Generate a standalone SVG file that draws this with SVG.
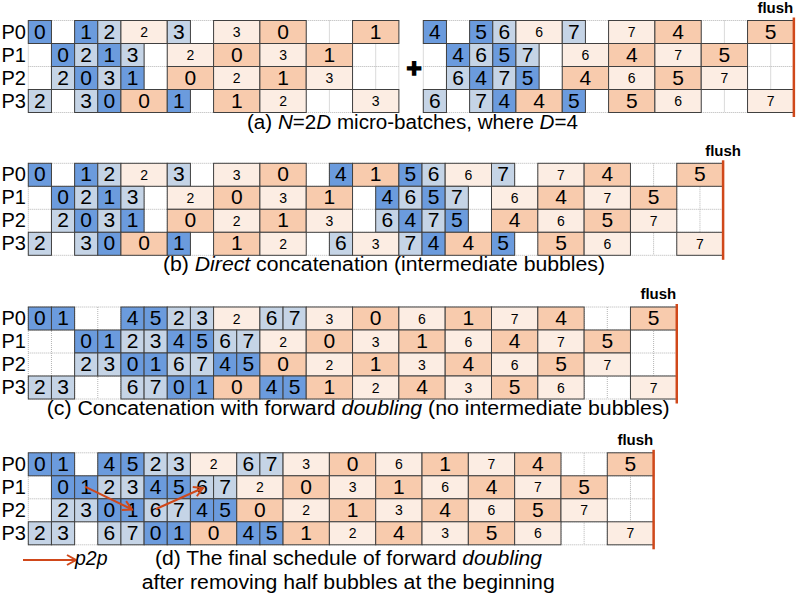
<svg xmlns="http://www.w3.org/2000/svg" width="797" height="599" viewBox="0 0 797 599">
<style>
.fd{fill:#6B9BDD}.fl{fill:#C5D4E6}.bd{fill:#F8CBAD}.bl{fill:#FCEDE3}
rect.fd,rect.fl,rect.bd,rect.bl{stroke:#404040;stroke-width:1}
text{font-family:'Liberation Sans',Arial,sans-serif;fill:#000}
.t{font-size:21px;text-anchor:middle}
.s{font-size:14px;text-anchor:middle}
.lbl{font-size:20px}
.grid{fill:none;stroke:#B4B4B4;stroke-width:1;stroke-dasharray:1 1}
.flush{stroke:#D0481A;stroke-width:2.5}
.ft{font-weight:bold;font-size:15px}
.cap{font-size:19.5px}
.p2p{stroke:#D0481A;stroke-width:2;fill:none}
</style>
<defs>
<marker id="ah" markerUnits="userSpaceOnUse" markerWidth="16" markerHeight="16" refX="13" refY="8" orient="auto"><path d="M4,3 L13,8 L4,13" fill="none" stroke="#D0481A" stroke-width="2"/></marker>
</defs>

<!-- Section (a) left -->
<g id="sec-a-left" transform="translate(28.3,20.5)">
<path class="grid" d="M0 0V92M23.16 0V92M46.32 0V92M69.48 0V92M92.64 0V92M115.8 0V92M138.96 0V92M162.12 0V92M185.28 0V92M208.44 0V92M231.6 0V92M254.76 0V92M277.92 0V92M301.08 0V92M324.24 0V92M347.4 0V92M370.56 0V92M0 0H370.56M0 23H370.56M0 46H370.56M0 69H370.56M0 92H370.56"/>
<g id="a-p0"><text class="lbl" x="-26.8" y="18">P0</text>
<rect class="fd" x="0" width="23.16" height="23"/><text class="t" x="11.58" y="18">0</text>
<rect class="fd" x="46.32" width="23.16" height="23"/><text class="t" x="57.9" y="18">1</text>
<rect class="fl" x="69.48" width="23.16" height="23"/><text class="t" x="81.06" y="18">2</text>
<rect class="bl" x="92.64" width="46.32" height="23"/><text class="s" x="115.8" y="16.5">2</text>
<rect class="fl" x="138.96" width="23.16" height="23"/><text class="t" x="150.54" y="18">3</text>
<rect class="bl" x="185.28" width="46.32" height="23"/><text class="s" x="208.44" y="16.5">3</text>
<rect class="bd" x="231.6" width="46.32" height="23"/><text class="t" x="254.76" y="18">0</text>
<rect class="bd" x="324.24" width="46.32" height="23"/><text class="t" x="347.4" y="18">1</text>
</g>
<g id="a-p1" transform="translate(0,23)"><text class="lbl" x="-26.8" y="18">P1</text>
<rect class="fd" x="23.16" width="23.16" height="23"/><text class="t" x="34.74" y="18">0</text>
<rect class="fl" x="46.32" width="23.16" height="23"/><text class="t" x="57.9" y="18">2</text>
<rect class="fd" x="69.48" width="23.16" height="23"/><text class="t" x="81.06" y="18">1</text>
<rect class="fl" x="92.64" width="23.16" height="23"/><text class="t" x="104.22" y="18">3</text>
<rect class="bl" x="138.96" width="46.32" height="23"/><text class="s" x="162.12" y="16.5">2</text>
<rect class="bd" x="185.28" width="46.32" height="23"/><text class="t" x="208.44" y="18">0</text>
<rect class="bl" x="231.6" width="46.32" height="23"/><text class="s" x="254.76" y="16.5">3</text>
<rect class="bd" x="277.92" width="46.32" height="23"/><text class="t" x="301.08" y="18">1</text>
</g>
<g id="a-p2" transform="translate(0,46)"><text class="lbl" x="-26.8" y="18">P2</text>
<rect class="fl" x="23.16" width="23.16" height="23"/><text class="t" x="34.74" y="18">2</text>
<rect class="fd" x="46.32" width="23.16" height="23"/><text class="t" x="57.9" y="18">0</text>
<rect class="fl" x="69.48" width="23.16" height="23"/><text class="t" x="81.06" y="18">3</text>
<rect class="fd" x="92.64" width="23.16" height="23"/><text class="t" x="104.22" y="18">1</text>
<rect class="bd" x="138.96" width="46.32" height="23"/><text class="t" x="162.12" y="18">0</text>
<rect class="bl" x="185.28" width="46.32" height="23"/><text class="s" x="208.44" y="16.5">2</text>
<rect class="bd" x="231.6" width="46.32" height="23"/><text class="t" x="254.76" y="18">1</text>
<rect class="bl" x="277.92" width="46.32" height="23"/><text class="s" x="301.08" y="16.5">3</text>
</g>
<g id="a-p3" transform="translate(0,69)"><text class="lbl" x="-26.8" y="18">P3</text>
<rect class="fl" x="0" width="23.16" height="23"/><text class="t" x="11.58" y="18">2</text>
<rect class="fl" x="46.32" width="23.16" height="23"/><text class="t" x="57.9" y="18">3</text>
<rect class="fd" x="69.48" width="23.16" height="23"/><text class="t" x="81.06" y="18">0</text>
<rect class="bd" x="92.64" width="46.32" height="23"/><text class="t" x="115.8" y="18">0</text>
<rect class="fd" x="138.96" width="23.16" height="23"/><text class="t" x="150.54" y="18">1</text>
<rect class="bd" x="185.28" width="46.32" height="23"/><text class="t" x="208.44" y="18">1</text>
<rect class="bl" x="231.6" width="46.32" height="23"/><text class="s" x="254.76" y="16.5">2</text>
<rect class="bl" x="324.24" width="46.32" height="23"/><text class="s" x="347.4" y="16.5">3</text>
</g>
</g>

<text id="plus" x="414" y="77" font-size="26" font-weight="bold" text-anchor="middle" stroke="#000" stroke-width="1.5">+</text>

<!-- Section (a) right -->
<g id="sec-a-right" transform="translate(423.3,20.5)">
<path class="grid" d="M0 0V92M23.16 0V92M46.32 0V92M69.48 0V92M92.64 0V92M115.8 0V92M138.96 0V92M162.12 0V92M185.28 0V92M208.44 0V92M231.6 0V92M254.76 0V92M277.92 0V92M301.08 0V92M324.24 0V92M347.4 0V92M370.56 0V92M0 0H370.56M0 23H370.56M0 46H370.56M0 69H370.56M0 92H370.56"/>
<g id="a2-p0">
<rect class="fd" x="0" width="23.16" height="23"/><text class="t" x="11.58" y="18">4</text>
<rect class="fd" x="46.32" width="23.16" height="23"/><text class="t" x="57.9" y="18">5</text>
<rect class="fl" x="69.48" width="23.16" height="23"/><text class="t" x="81.06" y="18">6</text>
<rect class="bl" x="92.64" width="46.32" height="23"/><text class="s" x="115.8" y="16.5">6</text>
<rect class="fl" x="138.96" width="23.16" height="23"/><text class="t" x="150.54" y="18">7</text>
<rect class="bl" x="185.28" width="46.32" height="23"/><text class="s" x="208.44" y="16.5">7</text>
<rect class="bd" x="231.6" width="46.32" height="23"/><text class="t" x="254.76" y="18">4</text>
<rect class="bd" x="324.24" width="46.32" height="23"/><text class="t" x="347.4" y="18">5</text>
</g>
<g id="a2-p1" transform="translate(0,23)">
<rect class="fd" x="23.16" width="23.16" height="23"/><text class="t" x="34.74" y="18">4</text>
<rect class="fl" x="46.32" width="23.16" height="23"/><text class="t" x="57.9" y="18">6</text>
<rect class="fd" x="69.48" width="23.16" height="23"/><text class="t" x="81.06" y="18">5</text>
<rect class="fl" x="92.64" width="23.16" height="23"/><text class="t" x="104.22" y="18">7</text>
<rect class="bl" x="138.96" width="46.32" height="23"/><text class="s" x="162.12" y="16.5">6</text>
<rect class="bd" x="185.28" width="46.32" height="23"/><text class="t" x="208.44" y="18">4</text>
<rect class="bl" x="231.6" width="46.32" height="23"/><text class="s" x="254.76" y="16.5">7</text>
<rect class="bd" x="277.92" width="46.32" height="23"/><text class="t" x="301.08" y="18">5</text>
</g>
<g id="a2-p2" transform="translate(0,46)">
<rect class="fl" x="23.16" width="23.16" height="23"/><text class="t" x="34.74" y="18">6</text>
<rect class="fd" x="46.32" width="23.16" height="23"/><text class="t" x="57.9" y="18">4</text>
<rect class="fl" x="69.48" width="23.16" height="23"/><text class="t" x="81.06" y="18">7</text>
<rect class="fd" x="92.64" width="23.16" height="23"/><text class="t" x="104.22" y="18">5</text>
<rect class="bd" x="138.96" width="46.32" height="23"/><text class="t" x="162.12" y="18">4</text>
<rect class="bl" x="185.28" width="46.32" height="23"/><text class="s" x="208.44" y="16.5">6</text>
<rect class="bd" x="231.6" width="46.32" height="23"/><text class="t" x="254.76" y="18">5</text>
<rect class="bl" x="277.92" width="46.32" height="23"/><text class="s" x="301.08" y="16.5">7</text>
</g>
<g id="a2-p3" transform="translate(0,69)">
<rect class="fl" x="0" width="23.16" height="23"/><text class="t" x="11.58" y="18">6</text>
<rect class="fl" x="46.32" width="23.16" height="23"/><text class="t" x="57.9" y="18">7</text>
<rect class="fd" x="69.48" width="23.16" height="23"/><text class="t" x="81.06" y="18">4</text>
<rect class="bd" x="92.64" width="46.32" height="23"/><text class="t" x="115.8" y="18">4</text>
<rect class="fd" x="138.96" width="23.16" height="23"/><text class="t" x="150.54" y="18">5</text>
<rect class="bd" x="185.28" width="46.32" height="23"/><text class="t" x="208.44" y="18">5</text>
<rect class="bl" x="231.6" width="46.32" height="23"/><text class="s" x="254.76" y="16.5">6</text>
<rect class="bl" x="324.24" width="46.32" height="23"/><text class="s" x="347.4" y="16.5">7</text>
</g>
<line class="flush" x1="370.56" y1="-3" x2="370.56" y2="96.5"/>
<text class="ft" x="370" y="-7.5" text-anchor="end">flush</text>
</g>
<text class="cap" x="247" y="129" textLength="331" lengthAdjust="spacingAndGlyphs">(a) <tspan font-style="italic">N</tspan>=2<tspan font-style="italic">D</tspan> micro-batches, where <tspan font-style="italic">D</tspan>=4</text>

<!-- Section (b) -->
<g id="sec-b" transform="translate(28.3,163.3)">
<path class="grid" d="M0 0V92M23.16 0V92M46.32 0V92M69.48 0V92M92.64 0V92M115.8 0V92M138.96 0V92M162.12 0V92M185.28 0V92M208.44 0V92M231.6 0V92M254.76 0V92M277.92 0V92M301.08 0V92M324.24 0V92M347.4 0V92M370.56 0V92M393.72 0V92M416.88 0V92M440.04 0V92M463.2 0V92M486.36 0V92M509.52 0V92M532.68 0V92M555.84 0V92M579 0V92M602.16 0V92M625.32 0V92M648.48 0V92M671.64 0V92M694.8 0V92M0 0H694.8M0 23H694.8M0 46H694.8M0 69H694.8M0 92H694.8"/>
<g id="b-p0"><text class="lbl" x="-26.8" y="18">P0</text>
<rect class="fd" x="0" width="23.16" height="23"/><text class="t" x="11.58" y="18">0</text>
<rect class="fd" x="46.32" width="23.16" height="23"/><text class="t" x="57.9" y="18">1</text>
<rect class="fl" x="69.48" width="23.16" height="23"/><text class="t" x="81.06" y="18">2</text>
<rect class="bl" x="92.64" width="46.32" height="23"/><text class="s" x="115.8" y="16.5">2</text>
<rect class="fl" x="138.96" width="23.16" height="23"/><text class="t" x="150.54" y="18">3</text>
<rect class="bl" x="185.28" width="46.32" height="23"/><text class="s" x="208.44" y="16.5">3</text>
<rect class="bd" x="231.6" width="46.32" height="23"/><text class="t" x="254.76" y="18">0</text>
<rect class="fd" x="301.08" width="23.16" height="23"/><text class="t" x="312.66" y="18">4</text>
<rect class="bd" x="324.24" width="46.32" height="23"/><text class="t" x="347.4" y="18">1</text>
<rect class="fd" x="370.56" width="23.16" height="23"/><text class="t" x="382.14" y="18">5</text>
<rect class="fl" x="393.72" width="23.16" height="23"/><text class="t" x="405.3" y="18">6</text>
<rect class="bl" x="416.88" width="46.32" height="23"/><text class="s" x="440.04" y="16.5">6</text>
<rect class="fl" x="463.2" width="23.16" height="23"/><text class="t" x="474.78" y="18">7</text>
<rect class="bl" x="509.52" width="46.32" height="23"/><text class="s" x="532.68" y="16.5">7</text>
<rect class="bd" x="555.84" width="46.32" height="23"/><text class="t" x="579" y="18">4</text>
<rect class="bd" x="648.48" width="46.32" height="23"/><text class="t" x="671.64" y="18">5</text>
</g>
<g id="b-p1" transform="translate(0,23)"><text class="lbl" x="-26.8" y="18">P1</text>
<rect class="fd" x="23.16" width="23.16" height="23"/><text class="t" x="34.74" y="18">0</text>
<rect class="fl" x="46.32" width="23.16" height="23"/><text class="t" x="57.9" y="18">2</text>
<rect class="fd" x="69.48" width="23.16" height="23"/><text class="t" x="81.06" y="18">1</text>
<rect class="fl" x="92.64" width="23.16" height="23"/><text class="t" x="104.22" y="18">3</text>
<rect class="bl" x="138.96" width="46.32" height="23"/><text class="s" x="162.12" y="16.5">2</text>
<rect class="bd" x="185.28" width="46.32" height="23"/><text class="t" x="208.44" y="18">0</text>
<rect class="bl" x="231.6" width="46.32" height="23"/><text class="s" x="254.76" y="16.5">3</text>
<rect class="bd" x="277.92" width="46.32" height="23"/><text class="t" x="301.08" y="18">1</text>
<rect class="fd" x="347.4" width="23.16" height="23"/><text class="t" x="358.98" y="18">4</text>
<rect class="fl" x="370.56" width="23.16" height="23"/><text class="t" x="382.14" y="18">6</text>
<rect class="fd" x="393.72" width="23.16" height="23"/><text class="t" x="405.3" y="18">5</text>
<rect class="fl" x="416.88" width="23.16" height="23"/><text class="t" x="428.46" y="18">7</text>
<rect class="bl" x="463.2" width="46.32" height="23"/><text class="s" x="486.36" y="16.5">6</text>
<rect class="bd" x="509.52" width="46.32" height="23"/><text class="t" x="532.68" y="18">4</text>
<rect class="bl" x="555.84" width="46.32" height="23"/><text class="s" x="579" y="16.5">7</text>
<rect class="bd" x="602.16" width="46.32" height="23"/><text class="t" x="625.32" y="18">5</text>
</g>
<g id="b-p2" transform="translate(0,46)"><text class="lbl" x="-26.8" y="18">P2</text>
<rect class="fl" x="23.16" width="23.16" height="23"/><text class="t" x="34.74" y="18">2</text>
<rect class="fd" x="46.32" width="23.16" height="23"/><text class="t" x="57.9" y="18">0</text>
<rect class="fl" x="69.48" width="23.16" height="23"/><text class="t" x="81.06" y="18">3</text>
<rect class="fd" x="92.64" width="23.16" height="23"/><text class="t" x="104.22" y="18">1</text>
<rect class="bd" x="138.96" width="46.32" height="23"/><text class="t" x="162.12" y="18">0</text>
<rect class="bl" x="185.28" width="46.32" height="23"/><text class="s" x="208.44" y="16.5">2</text>
<rect class="bd" x="231.6" width="46.32" height="23"/><text class="t" x="254.76" y="18">1</text>
<rect class="bl" x="277.92" width="46.32" height="23"/><text class="s" x="301.08" y="16.5">3</text>
<rect class="fl" x="347.4" width="23.16" height="23"/><text class="t" x="358.98" y="18">6</text>
<rect class="fd" x="370.56" width="23.16" height="23"/><text class="t" x="382.14" y="18">4</text>
<rect class="fl" x="393.72" width="23.16" height="23"/><text class="t" x="405.3" y="18">7</text>
<rect class="fd" x="416.88" width="23.16" height="23"/><text class="t" x="428.46" y="18">5</text>
<rect class="bd" x="463.2" width="46.32" height="23"/><text class="t" x="486.36" y="18">4</text>
<rect class="bl" x="509.52" width="46.32" height="23"/><text class="s" x="532.68" y="16.5">6</text>
<rect class="bd" x="555.84" width="46.32" height="23"/><text class="t" x="579" y="18">5</text>
<rect class="bl" x="602.16" width="46.32" height="23"/><text class="s" x="625.32" y="16.5">7</text>
</g>
<g id="b-p3" transform="translate(0,69)"><text class="lbl" x="-26.8" y="18">P3</text>
<rect class="fl" x="0" width="23.16" height="23"/><text class="t" x="11.58" y="18">2</text>
<rect class="fl" x="46.32" width="23.16" height="23"/><text class="t" x="57.9" y="18">3</text>
<rect class="fd" x="69.48" width="23.16" height="23"/><text class="t" x="81.06" y="18">0</text>
<rect class="bd" x="92.64" width="46.32" height="23"/><text class="t" x="115.8" y="18">0</text>
<rect class="fd" x="138.96" width="23.16" height="23"/><text class="t" x="150.54" y="18">1</text>
<rect class="bd" x="185.28" width="46.32" height="23"/><text class="t" x="208.44" y="18">1</text>
<rect class="bl" x="231.6" width="46.32" height="23"/><text class="s" x="254.76" y="16.5">2</text>
<rect class="fl" x="301.08" width="23.16" height="23"/><text class="t" x="312.66" y="18">6</text>
<rect class="bl" x="324.24" width="46.32" height="23"/><text class="s" x="347.4" y="16.5">3</text>
<rect class="fl" x="370.56" width="23.16" height="23"/><text class="t" x="382.14" y="18">7</text>
<rect class="fd" x="393.72" width="23.16" height="23"/><text class="t" x="405.3" y="18">4</text>
<rect class="bd" x="416.88" width="46.32" height="23"/><text class="t" x="440.04" y="18">4</text>
<rect class="fd" x="463.2" width="23.16" height="23"/><text class="t" x="474.78" y="18">5</text>
<rect class="bd" x="509.52" width="46.32" height="23"/><text class="t" x="532.68" y="18">5</text>
<rect class="bl" x="555.84" width="46.32" height="23"/><text class="s" x="579" y="16.5">6</text>
<rect class="bl" x="648.48" width="46.32" height="23"/><text class="s" x="671.64" y="16.5">7</text>
</g>
<line class="flush" x1="694.8" y1="-3" x2="694.8" y2="96.5"/>
<text class="ft" x="694.8" y="-7" text-anchor="middle">flush</text>
</g>
<text class="cap" x="163" y="271" textLength="442" lengthAdjust="spacingAndGlyphs">(b) <tspan font-style="italic">Direct</tspan> concatenation (intermediate bubbles)</text>

<!-- Section (c) -->
<g id="sec-c" transform="translate(28.3,307)">
<path class="grid" d="M0 0V92M23.16 0V92M46.32 0V92M69.48 0V92M92.64 0V92M115.8 0V92M138.96 0V92M162.12 0V92M185.28 0V92M208.44 0V92M231.6 0V92M254.76 0V92M277.92 0V92M301.08 0V92M324.24 0V92M347.4 0V92M370.56 0V92M393.72 0V92M416.88 0V92M440.04 0V92M463.2 0V92M486.36 0V92M509.52 0V92M532.68 0V92M555.84 0V92M579 0V92M602.16 0V92M625.32 0V92M648.48 0V92M0 0H648.48M0 23H648.48M0 46H648.48M0 69H648.48M0 92H648.48"/>
<g id="c-p0"><text class="lbl" x="-26.8" y="18">P0</text>
<rect class="fd" x="0" width="23.16" height="23"/><text class="t" x="11.58" y="18">0</text>
<rect class="fd" x="23.16" width="23.16" height="23"/><text class="t" x="34.74" y="18">1</text>
<rect class="fd" x="92.64" width="23.16" height="23"/><text class="t" x="104.22" y="18">4</text>
<rect class="fd" x="115.8" width="23.16" height="23"/><text class="t" x="127.38" y="18">5</text>
<rect class="fl" x="138.96" width="23.16" height="23"/><text class="t" x="150.54" y="18">2</text>
<rect class="fl" x="162.12" width="23.16" height="23"/><text class="t" x="173.7" y="18">3</text>
<rect class="bl" x="185.28" width="46.32" height="23"/><text class="s" x="208.44" y="16.5">2</text>
<rect class="fl" x="231.6" width="23.16" height="23"/><text class="t" x="243.18" y="18">6</text>
<rect class="fl" x="254.76" width="23.16" height="23"/><text class="t" x="266.34" y="18">7</text>
<rect class="bl" x="277.92" width="46.32" height="23"/><text class="s" x="301.08" y="16.5">3</text>
<rect class="bd" x="324.24" width="46.32" height="23"/><text class="t" x="347.4" y="18">0</text>
<rect class="bl" x="370.56" width="46.32" height="23"/><text class="s" x="393.72" y="16.5">6</text>
<rect class="bd" x="416.88" width="46.32" height="23"/><text class="t" x="440.04" y="18">1</text>
<rect class="bl" x="463.2" width="46.32" height="23"/><text class="s" x="486.36" y="16.5">7</text>
<rect class="bd" x="509.52" width="46.32" height="23"/><text class="t" x="532.68" y="18">4</text>
<rect class="bd" x="602.16" width="46.32" height="23"/><text class="t" x="625.32" y="18">5</text>
</g>
<g id="c-p1" transform="translate(0,23)"><text class="lbl" x="-26.8" y="18">P1</text>
<rect class="fd" x="46.32" width="23.16" height="23"/><text class="t" x="57.9" y="18">0</text>
<rect class="fd" x="69.48" width="23.16" height="23"/><text class="t" x="81.06" y="18">1</text>
<rect class="fl" x="92.64" width="23.16" height="23"/><text class="t" x="104.22" y="18">2</text>
<rect class="fl" x="115.8" width="23.16" height="23"/><text class="t" x="127.38" y="18">3</text>
<rect class="fd" x="138.96" width="23.16" height="23"/><text class="t" x="150.54" y="18">4</text>
<rect class="fd" x="162.12" width="23.16" height="23"/><text class="t" x="173.7" y="18">5</text>
<rect class="fl" x="185.28" width="23.16" height="23"/><text class="t" x="196.86" y="18">6</text>
<rect class="fl" x="208.44" width="23.16" height="23"/><text class="t" x="220.02" y="18">7</text>
<rect class="bl" x="231.6" width="46.32" height="23"/><text class="s" x="254.76" y="16.5">2</text>
<rect class="bd" x="277.92" width="46.32" height="23"/><text class="t" x="301.08" y="18">0</text>
<rect class="bl" x="324.24" width="46.32" height="23"/><text class="s" x="347.4" y="16.5">3</text>
<rect class="bd" x="370.56" width="46.32" height="23"/><text class="t" x="393.72" y="18">1</text>
<rect class="bl" x="416.88" width="46.32" height="23"/><text class="s" x="440.04" y="16.5">6</text>
<rect class="bd" x="463.2" width="46.32" height="23"/><text class="t" x="486.36" y="18">4</text>
<rect class="bl" x="509.52" width="46.32" height="23"/><text class="s" x="532.68" y="16.5">7</text>
<rect class="bd" x="555.84" width="46.32" height="23"/><text class="t" x="579" y="18">5</text>
</g>
<g id="c-p2" transform="translate(0,46)"><text class="lbl" x="-26.8" y="18">P2</text>
<rect class="fl" x="46.32" width="23.16" height="23"/><text class="t" x="57.9" y="18">2</text>
<rect class="fl" x="69.48" width="23.16" height="23"/><text class="t" x="81.06" y="18">3</text>
<rect class="fd" x="92.64" width="23.16" height="23"/><text class="t" x="104.22" y="18">0</text>
<rect class="fd" x="115.8" width="23.16" height="23"/><text class="t" x="127.38" y="18">1</text>
<rect class="fl" x="138.96" width="23.16" height="23"/><text class="t" x="150.54" y="18">6</text>
<rect class="fl" x="162.12" width="23.16" height="23"/><text class="t" x="173.7" y="18">7</text>
<rect class="fd" x="185.28" width="23.16" height="23"/><text class="t" x="196.86" y="18">4</text>
<rect class="fd" x="208.44" width="23.16" height="23"/><text class="t" x="220.02" y="18">5</text>
<rect class="bd" x="231.6" width="46.32" height="23"/><text class="t" x="254.76" y="18">0</text>
<rect class="bl" x="277.92" width="46.32" height="23"/><text class="s" x="301.08" y="16.5">2</text>
<rect class="bd" x="324.24" width="46.32" height="23"/><text class="t" x="347.4" y="18">1</text>
<rect class="bl" x="370.56" width="46.32" height="23"/><text class="s" x="393.72" y="16.5">3</text>
<rect class="bd" x="416.88" width="46.32" height="23"/><text class="t" x="440.04" y="18">4</text>
<rect class="bl" x="463.2" width="46.32" height="23"/><text class="s" x="486.36" y="16.5">6</text>
<rect class="bd" x="509.52" width="46.32" height="23"/><text class="t" x="532.68" y="18">5</text>
<rect class="bl" x="555.84" width="46.32" height="23"/><text class="s" x="579" y="16.5">7</text>
</g>
<g id="c-p3" transform="translate(0,69)"><text class="lbl" x="-26.8" y="18">P3</text>
<rect class="fl" x="0" width="23.16" height="23"/><text class="t" x="11.58" y="18">2</text>
<rect class="fl" x="23.16" width="23.16" height="23"/><text class="t" x="34.74" y="18">3</text>
<rect class="fl" x="92.64" width="23.16" height="23"/><text class="t" x="104.22" y="18">6</text>
<rect class="fl" x="115.8" width="23.16" height="23"/><text class="t" x="127.38" y="18">7</text>
<rect class="fd" x="138.96" width="23.16" height="23"/><text class="t" x="150.54" y="18">0</text>
<rect class="fd" x="162.12" width="23.16" height="23"/><text class="t" x="173.7" y="18">1</text>
<rect class="bd" x="185.28" width="46.32" height="23"/><text class="t" x="208.44" y="18">0</text>
<rect class="fd" x="231.6" width="23.16" height="23"/><text class="t" x="243.18" y="18">4</text>
<rect class="fd" x="254.76" width="23.16" height="23"/><text class="t" x="266.34" y="18">5</text>
<rect class="bd" x="277.92" width="46.32" height="23"/><text class="t" x="301.08" y="18">1</text>
<rect class="bl" x="324.24" width="46.32" height="23"/><text class="s" x="347.4" y="16.5">2</text>
<rect class="bd" x="370.56" width="46.32" height="23"/><text class="t" x="393.72" y="18">4</text>
<rect class="bl" x="416.88" width="46.32" height="23"/><text class="s" x="440.04" y="16.5">3</text>
<rect class="bd" x="463.2" width="46.32" height="23"/><text class="t" x="486.36" y="18">5</text>
<rect class="bl" x="509.52" width="46.32" height="23"/><text class="s" x="532.68" y="16.5">6</text>
<rect class="bl" x="602.16" width="46.32" height="23"/><text class="s" x="625.32" y="16.5">7</text>
</g>
<line class="flush" x1="648.48" y1="-3" x2="648.48" y2="96.5"/>
<text class="ft" x="648" y="-8" text-anchor="end">flush</text>
</g>
<text class="cap" x="46.7" y="414.5" textLength="623" lengthAdjust="spacingAndGlyphs">(c) Concatenation with forward <tspan font-style="italic">doubling</tspan> (no intermediate bubbles)</text>

<!-- Section (d) -->
<g id="sec-d" transform="translate(28.3,452.8)">
<path class="grid" d="M0 0V92M23.16 0V92M46.32 0V92M69.48 0V92M92.64 0V92M115.8 0V92M138.96 0V92M162.12 0V92M185.28 0V92M208.44 0V92M231.6 0V92M254.76 0V92M277.92 0V92M301.08 0V92M324.24 0V92M347.4 0V92M370.56 0V92M393.72 0V92M416.88 0V92M440.04 0V92M463.2 0V92M486.36 0V92M509.52 0V92M532.68 0V92M555.84 0V92M579 0V92M602.16 0V92M625.32 0V92M0 0H625.32M0 23H625.32M0 46H625.32M0 69H625.32M0 92H625.32"/>
<g id="d-p0"><text class="lbl" x="-26.8" y="18">P0</text>
<rect class="fd" x="0" width="23.16" height="23"/><text class="t" x="11.58" y="18">0</text>
<rect class="fd" x="23.16" width="23.16" height="23"/><text class="t" x="34.74" y="18">1</text>
<rect class="fd" x="69.48" width="23.16" height="23"/><text class="t" x="81.06" y="18">4</text>
<rect class="fd" x="92.64" width="23.16" height="23"/><text class="t" x="104.22" y="18">5</text>
<rect class="fl" x="115.8" width="23.16" height="23"/><text class="t" x="127.38" y="18">2</text>
<rect class="fl" x="138.96" width="23.16" height="23"/><text class="t" x="150.54" y="18">3</text>
<rect class="bl" x="162.12" width="46.32" height="23"/><text class="s" x="185.28" y="16.5">2</text>
<rect class="fl" x="208.44" width="23.16" height="23"/><text class="t" x="220.02" y="18">6</text>
<rect class="fl" x="231.6" width="23.16" height="23"/><text class="t" x="243.18" y="18">7</text>
<rect class="bl" x="254.76" width="46.32" height="23"/><text class="s" x="277.92" y="16.5">3</text>
<rect class="bd" x="301.08" width="46.32" height="23"/><text class="t" x="324.24" y="18">0</text>
<rect class="bl" x="347.4" width="46.32" height="23"/><text class="s" x="370.56" y="16.5">6</text>
<rect class="bd" x="393.72" width="46.32" height="23"/><text class="t" x="416.88" y="18">1</text>
<rect class="bl" x="440.04" width="46.32" height="23"/><text class="s" x="463.2" y="16.5">7</text>
<rect class="bd" x="486.36" width="46.32" height="23"/><text class="t" x="509.52" y="18">4</text>
<rect class="bd" x="579" width="46.32" height="23"/><text class="t" x="602.16" y="18">5</text>
</g>
<g id="d-p1" transform="translate(0,23)"><text class="lbl" x="-26.8" y="18">P1</text>
<rect class="fd" x="23.16" width="23.16" height="23"/><text class="t" x="34.74" y="18">0</text>
<rect class="fd" x="46.32" width="23.16" height="23"/><text class="t" x="57.9" y="18">1</text>
<rect class="fl" x="69.48" width="23.16" height="23"/><text class="t" x="81.06" y="18">2</text>
<rect class="fl" x="92.64" width="23.16" height="23"/><text class="t" x="104.22" y="18">3</text>
<rect class="fd" x="115.8" width="23.16" height="23"/><text class="t" x="127.38" y="18">4</text>
<rect class="fd" x="138.96" width="23.16" height="23"/><text class="t" x="150.54" y="18">5</text>
<rect class="fl" x="162.12" width="23.16" height="23"/><text class="t" x="173.7" y="18">6</text>
<rect class="fl" x="185.28" width="23.16" height="23"/><text class="t" x="196.86" y="18">7</text>
<rect class="bl" x="208.44" width="46.32" height="23"/><text class="s" x="231.6" y="16.5">2</text>
<rect class="bd" x="254.76" width="46.32" height="23"/><text class="t" x="277.92" y="18">0</text>
<rect class="bl" x="301.08" width="46.32" height="23"/><text class="s" x="324.24" y="16.5">3</text>
<rect class="bd" x="347.4" width="46.32" height="23"/><text class="t" x="370.56" y="18">1</text>
<rect class="bl" x="393.72" width="46.32" height="23"/><text class="s" x="416.88" y="16.5">6</text>
<rect class="bd" x="440.04" width="46.32" height="23"/><text class="t" x="463.2" y="18">4</text>
<rect class="bl" x="486.36" width="46.32" height="23"/><text class="s" x="509.52" y="16.5">7</text>
<rect class="bd" x="532.68" width="46.32" height="23"/><text class="t" x="555.84" y="18">5</text>
</g>
<g id="d-p2" transform="translate(0,46)"><text class="lbl" x="-26.8" y="18">P2</text>
<rect class="fl" x="23.16" width="23.16" height="23"/><text class="t" x="34.74" y="18">2</text>
<rect class="fl" x="46.32" width="23.16" height="23"/><text class="t" x="57.9" y="18">3</text>
<rect class="fd" x="69.48" width="23.16" height="23"/><text class="t" x="81.06" y="18">0</text>
<rect class="fd" x="92.64" width="23.16" height="23"/><text class="t" x="104.22" y="18">1</text>
<rect class="fl" x="115.8" width="23.16" height="23"/><text class="t" x="127.38" y="18">6</text>
<rect class="fl" x="138.96" width="23.16" height="23"/><text class="t" x="150.54" y="18">7</text>
<rect class="fd" x="162.12" width="23.16" height="23"/><text class="t" x="173.7" y="18">4</text>
<rect class="fd" x="185.28" width="23.16" height="23"/><text class="t" x="196.86" y="18">5</text>
<rect class="bd" x="208.44" width="46.32" height="23"/><text class="t" x="231.6" y="18">0</text>
<rect class="bl" x="254.76" width="46.32" height="23"/><text class="s" x="277.92" y="16.5">2</text>
<rect class="bd" x="301.08" width="46.32" height="23"/><text class="t" x="324.24" y="18">1</text>
<rect class="bl" x="347.4" width="46.32" height="23"/><text class="s" x="370.56" y="16.5">3</text>
<rect class="bd" x="393.72" width="46.32" height="23"/><text class="t" x="416.88" y="18">4</text>
<rect class="bl" x="440.04" width="46.32" height="23"/><text class="s" x="463.2" y="16.5">6</text>
<rect class="bd" x="486.36" width="46.32" height="23"/><text class="t" x="509.52" y="18">5</text>
<rect class="bl" x="532.68" width="46.32" height="23"/><text class="s" x="555.84" y="16.5">7</text>
</g>
<g id="d-p3" transform="translate(0,69)"><text class="lbl" x="-26.8" y="18">P3</text>
<rect class="fl" x="0" width="23.16" height="23"/><text class="t" x="11.58" y="18">2</text>
<rect class="fl" x="23.16" width="23.16" height="23"/><text class="t" x="34.74" y="18">3</text>
<rect class="fl" x="69.48" width="23.16" height="23"/><text class="t" x="81.06" y="18">6</text>
<rect class="fl" x="92.64" width="23.16" height="23"/><text class="t" x="104.22" y="18">7</text>
<rect class="fd" x="115.8" width="23.16" height="23"/><text class="t" x="127.38" y="18">0</text>
<rect class="fd" x="138.96" width="23.16" height="23"/><text class="t" x="150.54" y="18">1</text>
<rect class="bd" x="162.12" width="46.32" height="23"/><text class="t" x="185.28" y="18">0</text>
<rect class="fd" x="208.44" width="23.16" height="23"/><text class="t" x="220.02" y="18">4</text>
<rect class="fd" x="231.6" width="23.16" height="23"/><text class="t" x="243.18" y="18">5</text>
<rect class="bd" x="254.76" width="46.32" height="23"/><text class="t" x="277.92" y="18">1</text>
<rect class="bl" x="301.08" width="46.32" height="23"/><text class="s" x="324.24" y="16.5">2</text>
<rect class="bd" x="347.4" width="46.32" height="23"/><text class="t" x="370.56" y="18">4</text>
<rect class="bl" x="393.72" width="46.32" height="23"/><text class="s" x="416.88" y="16.5">3</text>
<rect class="bd" x="440.04" width="46.32" height="23"/><text class="t" x="463.2" y="18">5</text>
<rect class="bl" x="486.36" width="46.32" height="23"/><text class="s" x="509.52" y="16.5">6</text>
<rect class="bl" x="579" width="46.32" height="23"/><text class="s" x="602.16" y="16.5">7</text>
</g>
<line class="flush" x1="625.32" y1="-3" x2="625.32" y2="96.5"/>
<text class="ft" x="625" y="-8" text-anchor="end">flush</text>
</g>

<g id="connectors">
<line class="p2p" x1="85" y1="486.7" x2="132" y2="509.5" marker-end="url(#ah)"/>
<line class="p2p" x1="156" y1="509" x2="203" y2="488" marker-end="url(#ah)"/>
<line class="p2p" x1="23" y1="560" x2="76" y2="560" marker-end="url(#ah)"/>
</g>
<text class="cap" x="75" y="565" font-style="italic">p2p</text>
<text class="cap" x="155" y="565" textLength="387" lengthAdjust="spacingAndGlyphs">(d) The final schedule of forward <tspan font-style="italic">doubling</tspan></text>
<text class="cap" x="141.7" y="588.5" textLength="413" lengthAdjust="spacingAndGlyphs">after removing half bubbles at the beginning</text>
</svg>
